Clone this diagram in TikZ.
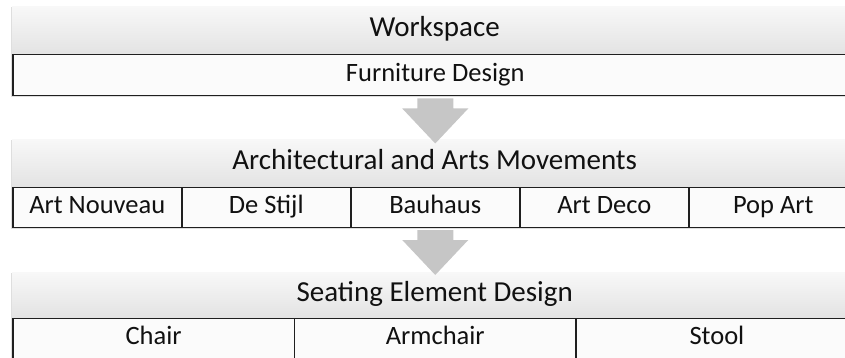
\documentclass[tikz,border=0pt]{standalone}
\usepackage{fontspec}
\setmainfont{Carlito}
\usetikzlibrary{calc}
\definecolor{txt}{HTML}{111111}
\definecolor{hdtop}{HTML}{F8F8F8}
\definecolor{hdbot}{HTML}{E3E3E3}
\definecolor{cellfill}{HTML}{FBFBFB}
\definecolor{arrowc}{HTML}{C6C6C6}
\definecolor{shadowc}{HTML}{BDBDBD}
\tikzset{
  header/.style={rectangle, anchor=north west, inner sep=0pt, top color=hdtop, bottom color=hdbot,
    draw=none, text=txt, font=\fontsize{29}{31}\selectfont, minimum width=845pt,
    text height=19pt, text depth=6pt},
  cell/.style={rectangle, anchor=north west, inner sep=0pt, fill=cellfill, draw=black!88,
    line width=1.5pt, text=txt, font=\fontsize{26.5}{28}\selectfont,
    text height=17.5pt, text depth=5.5pt},
  arrowfill/.style={fill=arrowc, draw=none},
  shade/.style={fill=shadowc, draw=none, opacity=0.5}
}
\newcommand{\blockarrowfrom}[1]{%
  \fill[arrowfill] ($(#1)+(-18,2)$) -- ++(36,0) -- ++(0,10) -- ++(15,0)
    -- ($(#1)+(0,47)$) -- ($(#1)+(-33,12)$) -- ++(15,0) -- cycle;}
\begin{document}
\begin{tikzpicture}[x=1pt,y=-1pt]
\useasboundingbox (0,0) rectangle (845,358);
\clip (0,0) rectangle (845,358);
% shadows
\fill[shade] (10.5,7) rectangle (858,97);
\fill[shade] (10.5,140) rectangle (858,228.5);
\fill[shade] (10.5,273) rectangle (858,360);
% section 1
\node[header, minimum height=48pt] (h1) at (12,6) {Workspace};
\node[cell, minimum width=845pt, minimum height=41pt] (r1) at (12,54) {Furniture Design};
% section 2
\node[header, minimum height=47.5pt] (h2) at (12,139) {Architectural and Arts Movements};
\node[cell, minimum width=169pt, minimum height=40pt] (c21) at (12,186.5) {Art Nouveau};
\node[cell, minimum width=169pt, minimum height=40pt] (c22) at (181,186.5) {De Stijl};
\node[cell, minimum width=169pt, minimum height=40pt] (c23) at (350,186.5) {Bauhaus};
\node[cell, minimum width=169pt, minimum height=40pt] (c24) at (519,186.5) {Art Deco};
\node[cell, minimum width=169pt, minimum height=40pt] (c25) at (688,186.5) {Pop Art};
% section 3
\node[header, minimum height=45.5pt] (h3) at (12,272) {Seating Element Design};
\node[cell, minimum width=281.67pt, minimum height=40pt] (c31) at (12,317.5) {Chair};
\node[cell, minimum width=281.67pt, minimum height=40pt] (c32) at (293.67,317.5) {Armchair};
\node[cell, minimum width=281.67pt, minimum height=40pt] (c33) at (575.33,317.5) {Stool};
% arrows between sections
\coordinate (a1) at (r1.south);
\coordinate (a2) at (c23.south);
\blockarrowfrom{a1}
\blockarrowfrom{a2}
\end{tikzpicture}
\end{document}
